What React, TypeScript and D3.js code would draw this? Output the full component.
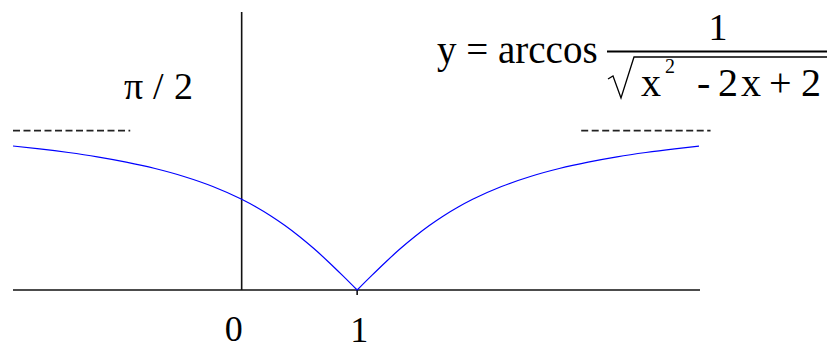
import React from "react";
import * as d3 from "d3";

// Sampled points of y = arccos(1 / sqrt(x^2 - 2x + 2))
const curveX = [
  -1.98, -1.75, -1.5, -1.25, -1.0, -0.75, -0.5, -0.25, 0.0, 0.125, 0.25, 0.375, 0.5, 0.625, 0.75, 0.875, 1.0,
  1.125, 1.25, 1.375, 1.5, 1.625, 1.75, 1.875, 2.0, 2.25, 2.5, 2.75, 3.0, 3.25, 3.5, 3.75, 3.96,
];
const curveY = [
  1.2468, 1.222, 1.1903, 1.1526, 1.1071, 1.0517, 0.9828, 0.8961, 0.7854, 0.7188, 0.6435, 0.5586, 0.4636, 0.3588,
  0.245, 0.1244, 0.0, 0.1244, 0.245, 0.3588, 0.4636, 0.5586, 0.6435, 0.7188, 0.7854, 0.8961, 0.9828, 1.0517,
  1.1071, 1.1526, 1.1903, 1.222, 1.2454,
];

// Asymptote guide segments (x ranges) and their level
const asymptoteLeft = [-1.98, -0.965];
const asymptoteRight = [2.94, 4.06];
const asymptoteLevel = 1.38;

const xTickValues = [0, 1];
const xTickLabels = ["0", "1"];
const asymptoteLabelParts = ["π", "/", "2"];

// Denominator pieces of the formula: x² - 2 x + 2
const denomParts = ["x", "-", "2", "x", "+", "2"];

const W = 832;
const H = 349;

export default function App() {
  const x = d3.scaleLinear().domain([-1.98, 3.96]).range([13, 699]);
  const y = d3.scaleLinear().domain([0, 1.2]).range([290, 290 - 1.2 * 115.5]);

  const pts = curveX.map((v, i) => [v, curveY[i]] as [number, number]);
  const leftBranch = pts.filter((p) => p[0] <= 1);
  const rightBranch = pts.filter((p) => p[0] >= 1);
  const line = d3
    .line<[number, number]>()
    .x((d) => x(d[0]))
    .y((d) => y(d[1]))
    .curve(d3.curveMonotoneX);

  const font = "'Liberation Serif', 'Times New Roman', serif";
  const x0 = x(0);
  const labelPartX = [124, 153, 174];
  const denomX = [641, 697, 718, 741, 769, 801];

  return (
    <svg
      width={W}
      height={H}
      viewBox={`0 0 ${W} ${H}`}
      style={{ position: "absolute", left: 0, top: 0, background: "#fff" }}
    >
      <rect width={W} height={H} fill="#fff" />
      {/* axes */}
      <line x1={13} x2={700} y1={y(0)} y2={y(0)} stroke="#111" strokeWidth={1.6} />
      <line x1={x0} x2={x0} y1={12} y2={y(0)} stroke="#111" strokeWidth={1.6} />
      <line x1={x(1)} x2={x(1)} y1={y(0)} y2={y(0) + 5} stroke="#111" strokeWidth={1.6} />

      {/* asymptote guides */}
      {[asymptoteLeft, asymptoteRight].map((seg, i) => (
        <line
          key={i}
          x1={x(seg[0])}
          x2={x(seg[1])}
          y1={y(asymptoteLevel)}
          y2={y(asymptoteLevel)}
          stroke="#222"
          strokeWidth={1.6}
          strokeDasharray="7 3.5"
        />
      ))}

      {/* curve */}
      <path d={line(leftBranch) || ""} fill="none" stroke="#0000ff" strokeWidth={1.2} />
      <path d={line(rightBranch) || ""} fill="none" stroke="#0000ff" strokeWidth={1.2} />

      {/* tick labels */}
      {xTickValues.map((v, i) => (
        <text
          key={v}
          x={x(v) + (v === 0 ? -8 : 2)}
          y={v === 0 ? 341 : 342}
          textAnchor="middle"
          fontFamily={font}
          fontSize={36}
          fill="#000"
        >
          {xTickLabels[i]}
        </text>
      ))}
      {asymptoteLabelParts.map((s, i) => (
        <text key={i} x={labelPartX[i]} y={99} fontFamily={font} fontSize={38} fill="#000">
          {s}
        </text>
      ))}

      {/* formula */}
      <text x={437} y={63} fontFamily={font} fontSize={39} fill="#000">
        y = arccos
      </text>
      <text x={718} y={40} textAnchor="middle" fontFamily={font} fontSize={38} fill="#000">
        1
      </text>
      <line x1={607} x2={827} y1={51.5} y2={51.5} stroke="#000" strokeWidth={1.8} />
      <polyline
        points="608,79 613,76 621,98 634,57 827,57"
        fill="none"
        stroke="#000"
        strokeWidth={1.3}
      />
      {denomParts.map((s, i) => (
        <text key={i} x={denomX[i]} y={96} fontFamily={font} fontSize={40} fill="#000">
          {s}
        </text>
      ))}
      <text x={665} y={73} fontFamily={font} fontSize={20} fill="#000">
        2
      </text>
    </svg>
  );
}
